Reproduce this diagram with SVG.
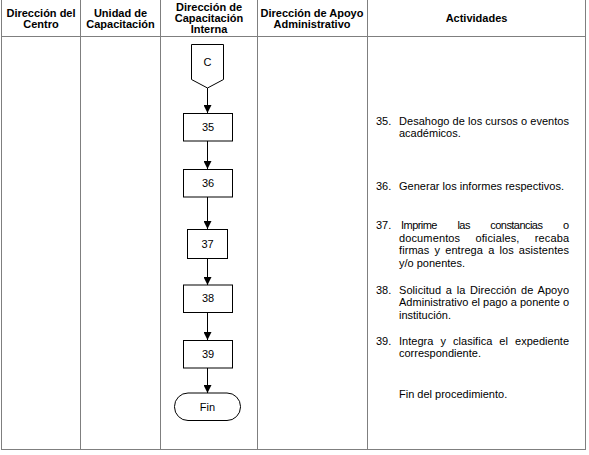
<svg xmlns="http://www.w3.org/2000/svg" width="589" height="455" viewBox="0 0 589 455">
<style>
.grid{stroke:#7f7f7f;stroke-width:1;fill:none}
.hd{font-family:"Liberation Sans",Arial,sans-serif;font-size:11px;font-weight:bold;fill:#000;text-anchor:middle}
.tx{font-family:"Liberation Sans",Arial,sans-serif;font-size:11px;fill:#000}
.nt{font-family:"Liberation Sans",Arial,sans-serif;font-size:11px;fill:#000;text-anchor:middle}
.box{fill:#fff;stroke:#000;stroke-width:1}
.ln{stroke:#000;stroke-width:1;fill:none}
</style>
<defs>
<marker id="ah" viewBox="0 0 10 10" refX="10" refY="5" markerWidth="8" markerHeight="8" markerUnits="userSpaceOnUse" orient="auto">
<path d="M0,0 L10,5 L0,10 z" fill="#000"/>
</marker>
</defs>
<rect width="589" height="455" fill="#fff"/>
<g id="table">
<line class="grid" x1="1.5" y1="0" x2="1.5" y2="449.5" stroke="#b0b0b0"/>
<line class="grid" x1="80.5" y1="0" x2="80.5" y2="449.5"/>
<line class="grid" x1="160.5" y1="0" x2="160.5" y2="449.5"/>
<line class="grid" x1="257.5" y1="0" x2="257.5" y2="449.5"/>
<line class="grid" x1="367.5" y1="0" x2="367.5" y2="449.5"/>
<line class="grid" x1="585.5" y1="0" x2="585.5" y2="449.5" stroke-width="1.5"/>
<line class="grid" x1="1" y1="36.5" x2="586" y2="36.5"/>
<line class="grid" x1="1" y1="449.5" x2="586" y2="449.5" stroke="#a0a0a0"/>
<text class="hd" x="41" y="17">Dirección del</text>
<text class="hd" x="41" y="28">Centro</text>
<text class="hd" x="120.5" y="17">Unidad de</text>
<text class="hd" x="120.5" y="28">Capacitación</text>
<text class="hd" x="209" y="10.5">Dirección de</text>
<text class="hd" x="209" y="22">Capacitación</text>
<text class="hd" x="209" y="33">Interna</text>
<text class="hd" x="312" y="17">Dirección de Apoyo</text>
<text class="hd" x="312" y="28">Administrativo</text>
<text class="hd" x="476.5" y="22">Actividades</text>
</g>
<g id="connectors">
<line class="ln" x1="207.5" y1="88" x2="207.5" y2="113" marker-end="url(#ah)"/>
<line class="ln" x1="207.5" y1="141" x2="207.5" y2="169" marker-end="url(#ah)"/>
<line class="ln" x1="207.5" y1="197" x2="207.5" y2="229" marker-end="url(#ah)"/>
<line class="ln" x1="207.5" y1="259" x2="207.5" y2="285" marker-end="url(#ah)"/>
<line class="ln" x1="207.5" y1="312" x2="207.5" y2="340" marker-end="url(#ah)"/>
<line class="ln" x1="207.5" y1="368" x2="207.5" y2="393" marker-end="url(#ah)"/>
</g>
<g id="nodeC">
<path class="box" d="M191.5,44.5 H223.5 V79.5 L207.5,88 L191.5,79.5 Z" stroke="#555"/>
<text class="nt" x="207.5" y="66">C</text>
</g>
<g id="node35">
<rect class="box" x="183.5" y="113.5" width="49" height="27.5"/>
<text class="nt" x="208" y="131">35</text>
</g>
<g id="node36">
<rect class="box" x="183.5" y="169.5" width="49" height="27.5"/>
<text class="nt" x="208" y="187">36</text>
</g>
<g id="node37">
<rect class="box" x="187.5" y="229.5" width="40" height="29"/>
<text class="nt" x="207.5" y="248">37</text>
</g>
<g id="node38">
<rect class="box" x="183.5" y="285" width="49" height="27.5"/>
<text class="nt" x="208" y="302">38</text>
</g>
<g id="node39">
<rect class="box" x="183.5" y="340.5" width="49" height="27.5"/>
<text class="nt" x="208" y="358">39</text>
</g>
<g id="nodeFin">
<rect class="box" x="174.5" y="393" width="66" height="27.5" rx="13.5" ry="13.5"/>
<text class="nt" x="207.5" y="411">Fin</text>
</g>
<g id="activities">
<text class="tx" x="376" y="124.5">35.</text>
<text class="tx" x="399" y="124.5" textLength="170" lengthAdjust="spacing">Desahogo de los cursos o eventos</text>
<text class="tx" x="399" y="137">académicos.</text>
<text class="tx" x="376" y="189.5">36.</text>
<text class="tx" x="399" y="189.5" textLength="165" lengthAdjust="spacing">Generar los informes respectivos.</text>
<text class="tx" x="376" y="229">37.</text>
<text class="tx" x="401" y="229" textLength="168" lengthAdjust="spacing" word-spacing="18">Imprime las constancias o</text>
<text class="tx" x="399" y="241.5" textLength="170" lengthAdjust="spacing" word-spacing="12">documentos oficiales, recaba</text>
<text class="tx" x="399" y="254" textLength="170" lengthAdjust="spacing" word-spacing="2">firmas y entrega a los asistentes</text>
<text class="tx" x="399" y="266.5">y/o ponentes.</text>
<text class="tx" x="376" y="294">38.</text>
<text class="tx" x="399" y="294" textLength="170" lengthAdjust="spacing" word-spacing="1.5">Solicitud a la Dirección de Apoyo</text>
<text class="tx" x="399" y="306" textLength="170" lengthAdjust="spacing">Administrativo el pago a ponente o</text>
<text class="tx" x="399" y="318.5">institución.</text>
<text class="tx" x="376" y="344.5">39.</text>
<text class="tx" x="399" y="344.5" textLength="170" lengthAdjust="spacing" word-spacing="4">Integra y clasifica el expediente</text>
<text class="tx" x="399" y="357">correspondiente.</text>
<text class="tx" x="399" y="398">Fin del procedimiento.</text>
</g>
</svg>
